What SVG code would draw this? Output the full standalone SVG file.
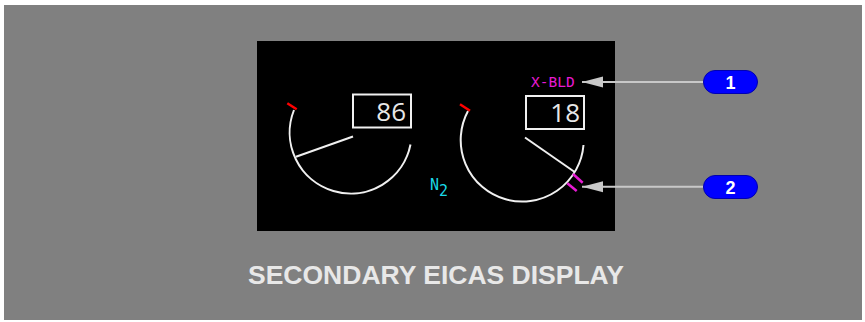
<svg xmlns="http://www.w3.org/2000/svg" width="865" height="322" viewBox="0 0 865 322">
<style>
.arc{fill:none;stroke:#f0f0f0;stroke-width:2}
.ptr{stroke:#f0f0f0;stroke-width:2}
.red{stroke:#ff0000;stroke-width:2.5}
.mag{stroke:#e61ad2;stroke-width:2.5}
.box{fill:none;stroke:#f0f0f0;stroke-width:2}
.dig{font-family:"Open Sans","Liberation Sans",sans-serif;font-size:26px;fill:#e8e8e8;text-anchor:end}
.mono{font-family:"DejaVu Sans Mono","Liberation Mono",monospace}
.lead{stroke:#c8c8c8;stroke-width:2;fill:none}
.pill{fill:#0000ff;stroke:#0000b0;stroke-width:1}
.num{font-family:"Liberation Sans",Arial,sans-serif;font-weight:bold;font-size:18px;fill:#ffffff;text-anchor:middle}
</style>
<defs>
<marker id="ah" markerWidth="21" markerHeight="12" refX="21" refY="6" orient="auto" markerUnits="userSpaceOnUse">
<path d="M21,6 L0,0.5 L0,11.5 Z" fill="#c8c8c8"/>
</marker>
</defs>
<rect x="0" y="0" width="865" height="322" fill="#ffffff"/>
<rect x="4" y="5" width="858" height="315" fill="#808080"/>
<rect x="257" y="41" width="358" height="190" fill="#000000"/>

<g id="gauge-left">
<path class="arc" d="M294,110 A61,61 0 1 0 410.5,144.5"/>
<line class="red" x1="287.3" y1="103.3" x2="296.7" y2="109.3"/>
<line class="ptr" x1="353" y1="136.5" x2="296" y2="156.7"/>
<rect class="box" x="353" y="94.5" width="58" height="33"/>
<text class="dig" x="406" y="121">86</text>
</g>

<g id="gauge-right">
<path class="arc" d="M468,111 A61.5,61.5 0 1 0 583.5,145"/>
<line class="red" x1="460" y1="104.3" x2="470" y2="110.7"/>
<line class="ptr" x1="525" y1="137.5" x2="574.3" y2="171.7"/>
<line class="mag" x1="573" y1="174" x2="582.7" y2="182.7"/>
<line class="mag" x1="567.3" y1="183.3" x2="576.7" y2="191"/>
<rect class="box" x="526" y="96" width="58" height="33"/>
<text class="dig" x="580" y="122">18</text>
</g>

<g id="label-xbld">
<text class="mono" x="531" y="87" font-size="14.5" fill="#e61ad2">X-BLD</text>
</g>

<g id="label-n2">
<text class="mono" x="430" y="190" font-size="15" fill="#1ad9e6">N<tspan dy="6">2</tspan></text>
</g>

<g id="connectors">
<line class="lead" x1="703.5" y1="82" x2="582" y2="82" marker-end="url(#ah)"/>
<line class="lead" x1="703.5" y1="186.7" x2="582" y2="186.7" marker-end="url(#ah)"/>
</g>

<g id="callout-1">
<rect class="pill" x="703.5" y="70.5" width="54" height="23" rx="11.5"/>
<text class="num" x="730.5" y="88.5">1</text>
</g>
<g id="callout-2">
<rect class="pill" x="703.5" y="175.5" width="54" height="23" rx="11.5"/>
<text class="num" x="730.5" y="193.5">2</text>
</g>

<g id="title">
<text x="436" y="283.5" font-family="Liberation Sans, Arial, sans-serif" font-weight="bold" font-size="26.5" fill="#e8e8e8" text-anchor="middle">SECONDARY EICAS DISPLAY</text>
</g>
</svg>
